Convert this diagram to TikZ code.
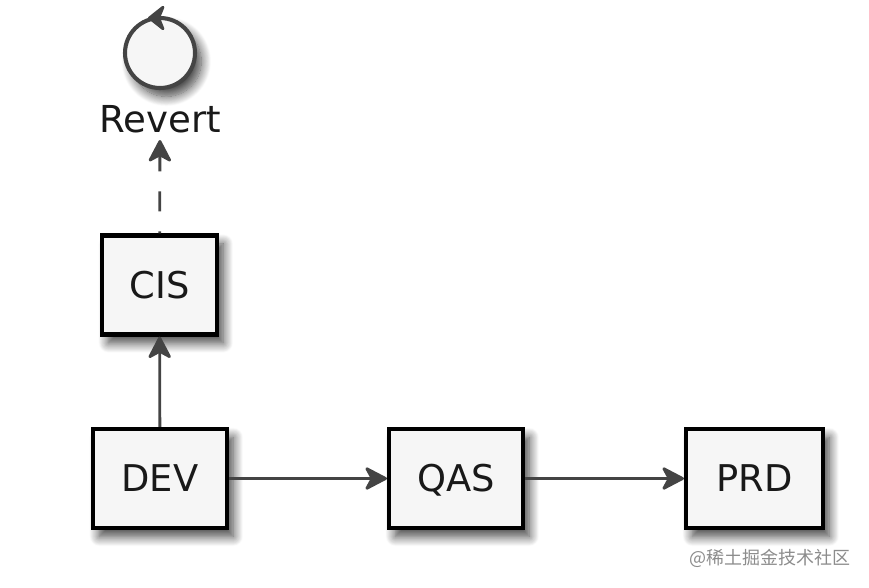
\documentclass[tikz,border=0pt]{standalone}
\usepackage{fontspec}
\setmainfont{DejaVu Sans}
\newfontfamily\cjk{Noto Sans CJK SC}
\usetikzlibrary{arrows.meta}
\usetikzlibrary{shadows.blur}
\definecolor{linegray}{HTML}{444444}
\definecolor{boxfill}{HTML}{F6F6F6}
\tikzset{
  softshadow/.style={blur shadow={shadow xshift=4.5pt, shadow yshift=-6pt, shadow blur radius=7pt, shadow blur steps=14, shadow opacity=75}},
  envbox/.style={draw=black, fill=boxfill, line width=2.9pt, minimum height=99*0.711pt, inner sep=0pt, text height=19pt, text depth=0pt, text=black!90, font=\fontsize{26.2}{30}\selectfont, softshadow},
  flow/.style={draw=linegray, line width=2pt, -{Stealth[length=25*0.711pt, width=26*0.711pt, inset=7*0.711pt, round]}},
}
\begin{document}
\begin{tikzpicture}[x=0.025cm, y=-0.025cm]
\useasboundingbox (0,0) rectangle (869,587);
% environments
\node[envbox, minimum width=115*0.711pt] (CIS) at (159.5,285) {CIS};
\node[envbox, minimum width=134*0.711pt] (DEV) at (160,478.5) {DEV};
\node[envbox, minimum width=134*0.711pt] (QAS) at (456,478.5) {QAS};
\node[envbox, minimum width=137*0.711pt] (PRD) at (754.5,478.5) {PRD};
% revert
\node[circle, draw=linegray, fill=boxfill, line width=2.9pt, minimum size=70*0.711pt, inner sep=0pt, softshadow] (loop) at (160,53) {};
\node[anchor=south, inner xsep=0pt, inner ysep=7*0.711pt, text=black!90, font=\fontsize{26.4}{30}\selectfont] (revert) at (160,140) {Revert};
\coordinate (looptail) at ([xshift=7*0.711pt, yshift=-2*0.711pt]loop.north);
\coordinate (loophead) at ([xshift=-12*0.711pt, yshift=-2*0.711pt]loop.north);
\draw[draw=linegray, line width=2pt, -{Stealth[length=19*0.711pt, width=30*0.711pt, inset=6*0.711pt, round]}] (looptail) -- (loophead);
% connectors
\draw[flow] (DEV) -- (CIS);
\draw[flow] (DEV) -- (QAS);
\draw[flow] (QAS) -- (PRD);
\draw[flow, dash pattern=on 20*0.711pt off 20*0.711pt, dash phase=18*0.711pt] (CIS) -- (revert);
% watermark
\node[anchor=east, inner sep=0pt, text=black!45, font=\cjk\fontsize{12.8}{16}\selectfont] (mark) at (851,558) {@稀土掘金技术社区};
\end{tikzpicture}
\end{document}
